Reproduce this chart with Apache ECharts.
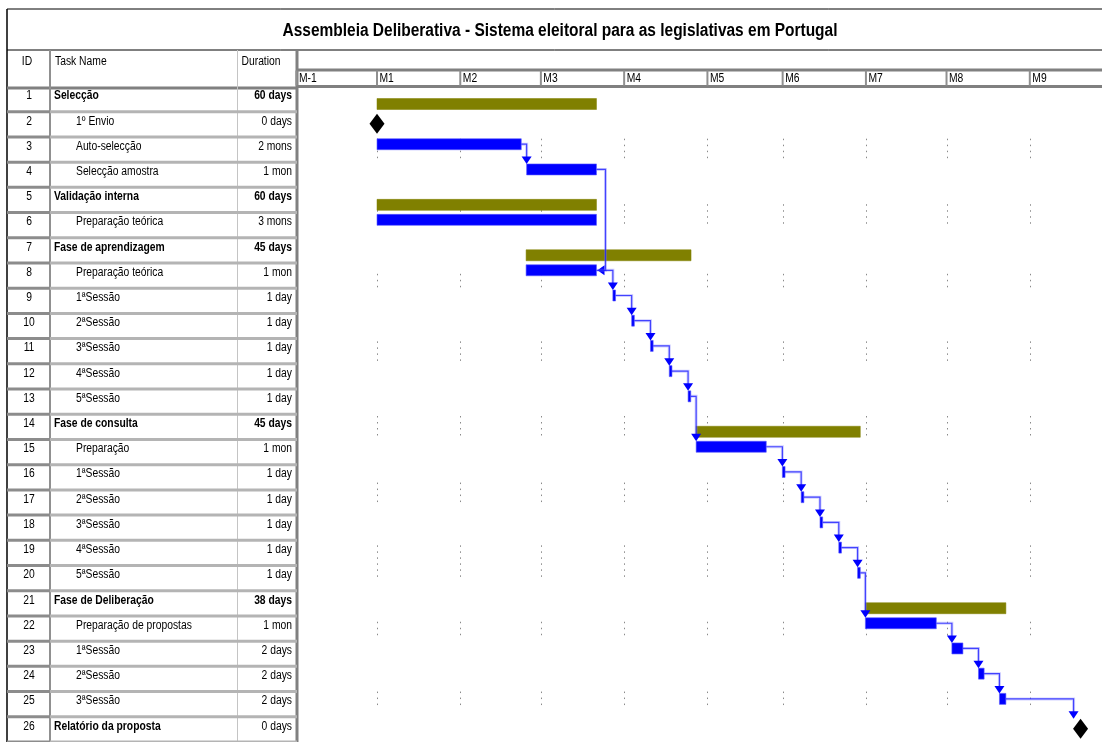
<!DOCTYPE html>
<html>
<head>
<meta charset="utf-8">
<title>Assembleia Deliberativa - Gantt</title>
<script src="https://cdn.jsdelivr.net/npm/echarts@6/dist/echarts.min.js"></script>
<style>
  html, body { margin: 0; padding: 0; background: #ffffff; }
  #chart { width: 1102px; height: 742px; }
</style>
</head>
<body>
<div id="chart"></div>
<script>
// ---- Project data ----------------------------------------------------------
const chartTitle = 'Assembleia Deliberativa - Sistema eleitoral para as legislativas em Portugal';

const taskIds = [1, 2, 3, 4, 5, 6, 7, 8, 9, 10, 11, 12, 13, 14, 15, 16, 17, 18, 19, 20, 21, 22, 23, 24, 25, 26];

const taskNames = [
  'Selecção', '1º Envio', 'Auto-selecção', 'Selecção amostra',
  'Validação interna', 'Preparação teórica',
  'Fase de aprendizagem', 'Preparação teórica', '1ªSessão', '2ªSessão', '3ªSessão', '4ªSessão', '5ªSessão',
  'Fase de consulta', 'Preparação', '1ªSessão', '2ªSessão', '3ªSessão', '4ªSessão', '5ªSessão',
  'Fase de Deliberação', 'Preparação de propostas', '1ªSessão', '2ªSessão', '3ªSessão',
  'Relatório da proposta'
];

const durations = [
  '60 days', '0 days', '2 mons', '1 mon',
  '60 days', '3 mons',
  '45 days', '1 mon', '1 day', '1 day', '1 day', '1 day', '1 day',
  '45 days', '1 mon', '1 day', '1 day', '1 day', '1 day', '1 day',
  '38 days', '1 mon', '2 days', '2 days', '2 days',
  '0 days'
];

// 0 = top-level row, 1 = indented sub-task
const outlineLevels = [0, 1, 1, 1, 0, 1, 0, 1, 1, 1, 1, 1, 1, 0, 1, 1, 1, 1, 1, 1, 0, 1, 1, 1, 1, 0];

// 'S' summary bar, 'T' task bar, 'M' milestone
const taskKinds = ['S', 'M', 'T', 'T', 'S', 'T', 'S', 'T', 'T', 'T', 'T', 'T', 'T',
                   'S', 'T', 'T', 'T', 'T', 'T', 'T', 'S', 'T', 'T', 'T', 'T', 'M'];

// Calendar days counted from the start of month M1
const startDays = [0, 0, 0, 55.7, 0, 0, 55.5, 55.5, 87.8, 94.8, 101.8, 108.8, 115.8,
                   118.8, 118.8, 150.9, 157.9, 164.9, 171.9, 178.9,
                   181.8, 181.8, 214.0, 223.9, 231.7, 261.9];
const finishDays = [81.7, 0, 53.7, 81.7, 81.7, 81.7, 116.9, 81.7, 88.8, 95.8, 102.8, 109.8, 116.8,
                    179.9, 144.9, 151.9, 158.9, 165.9, 172.9, 179.9,
                    234.1, 208.2, 218.1, 226.0, 234.1, 261.9];

// Dependencies: [predecessor id, successor id, type]
const linkFrom = [3, 4, 8, 9, 10, 11, 12, 13, 15, 16, 17, 18, 19, 20, 22, 23, 24, 25];
const linkTo   = [4, 8, 9, 10, 11, 12, 13, 15, 16, 17, 18, 19, 20, 22, 23, 24, 25, 26];
const linkType = ['FS', 'FF', 'FS', 'FS', 'FS', 'FS', 'FS', 'FS', 'FS', 'FS', 'FS', 'FS', 'FS', 'FS', 'FS', 'FS', 'FS', 'FS'];

// Timescale: month labels and the day on which each month begins
const monthLabels = ['M-1', 'M1', 'M2', 'M3', 'M4', 'M5', 'M6', 'M7', 'M8', 'M9'];
const monthStartDays = [-30, 0, 31, 61, 92, 123, 151, 182, 212, 243];

// ---- Layout & style --------------------------------------------------------
const FONT = "'Liberation Sans Narrow', 'Arial Narrow', 'Liberation Sans', Arial, sans-serif";
const TEXT_SCALE_X = 0.86;          // condensed lettering
const CANVAS_W = 1102;
const ROW_TOP = 86.5;
const ROW_H = 25.36;
const DAY0_X = 377;
const PX_PER_DAY = 2.6864;
const TABLE_LEFT = 7;
const TABLE_RIGHT = 297;
const OLIVE = '#808000';
const BLUE = '#0000ff';
const LINK = 'rgba(30,30,255,0.8)';
// row ranges (in row units) where the dotted month gridlines show through
const GRID_DOT_BANDS = [[2.07, 2.9], [4.67, 5.58], [7.43, 8.1], [10.11, 10.98], [13.07, 13.94],
                        [15.71, 16.5], [18.2, 19.46], [21.23, 21.9], [24.0, 24.66]];

const N = taskIds.length;
const gridLeft = DAY0_X + monthStartDays[0] * PX_PER_DAY;
const timescaleEnd = monthStartDays[0] + (CANVAS_W - gridLeft) / PX_PER_DAY;

const chart = echarts.init(document.getElementById('chart'), null, { renderer: 'canvas' });

function txt(x, y, text, opts) {
  return {
    type: 'text', x: x, y: y, scaleX: TEXT_SCALE_X, silent: true,
    style: Object.assign({
      text: text, fill: '#000', fontFamily: FONT, fontSize: 12, fontWeight: 'normal',
      align: 'left', verticalAlign: 'middle'
    }, opts || {})
  };
}

function line(x1, y1, x2, y2, color, width, dash) {
  return {
    type: 'line', silent: true,
    shape: { x1: x1, y1: y1, x2: x2, y2: y2 },
    style: { stroke: color, lineWidth: width, lineDash: dash || null }
  };
}

// Table rows: ID, task name, duration and the row separators
function renderTableRow(params, api) {
  const i = api.value(1);
  const c = api.coord([0, i]);
  const h = api.size([0, 1])[1];
  const top = c[1] - h / 2;
  const ty = top + 9.5;
  const boldName = outlineLevels[i] === 0;
  const boldDur = taskKinds[i] === 'S';
  const xIdCenter = api.coord([22, i])[0];
  const xName = api.coord([47 + outlineLevels[i] * 22, i])[0];
  const xDur = api.coord([285, i])[0];
  const yb = top + h;
  return {
    type: 'group',
    children: [
      line(TABLE_LEFT, yb, 50, yb, '#8c8c8c', 3),
      line(50, yb, TABLE_RIGHT, yb, '#b4b4b4', 3),
      txt(xIdCenter, ty, String(taskIds[i]), { align: 'center' }),
      txt(xName, ty, taskNames[i], { fontWeight: boldName ? 'bold' : 'normal' }),
      txt(xDur, ty, durations[i], { align: 'right', fontWeight: boldDur ? 'bold' : 'normal' })
    ]
  };
}

// Timescale header: month separators and labels above the chart area
function renderMonth(params, api) {
  const d = api.value(0);
  const x = api.coord([d, 0])[0];
  const y0 = params.coordSys.y;
  return {
    type: 'group',
    children: [
      line(x, y0 - 16, x, y0 - 1, '#909090', 2),
      txt(x + 2.5, y0 - 7.5, monthLabels[params.dataIndex], { fontSize: 12 })
    ]
  };
}

// Dotted month gridlines
function renderGridDots(params, api) {
  const d = api.value(0);
  const c = api.coord([d, 0]);
  const h = api.size([0, 1])[1];
  const top0 = c[1] - h / 2;
  const x = Math.round(c[0]) + 0.5;
  return {
    type: 'group',
    children: GRID_DOT_BANDS.map(b => line(x, top0 + b[0] * h, x, top0 + b[1] * h, '#8a8a8a', 1, [1.5, 4.5]))
  };
}

// Bars and milestones
function renderTask(params, api) {
  const i = api.value(2);
  const s = api.coord([api.value(0), i]);
  const e = api.coord([api.value(1), i]);
  const h = api.size([0, 1])[1];
  const top = s[1] - h / 2;
  const kind = taskKinds[i];
  if (kind === 'M') {
    const cy = top + 12;
    return {
      type: 'polygon', silent: true,
      shape: { points: [[s[0], cy - 10], [s[0] + 7.5, cy], [s[0], cy + 10], [s[0] - 7.5, cy]] },
      style: { fill: '#000' }
    };
  }
  const y = kind === 'S' ? top + 12 : top + 1.8;
  return {
    type: 'rect', silent: true,
    shape: { x: s[0], y: y, width: Math.max(e[0] - s[0], 2), height: 11 },
    style: { fill: kind === 'S' ? OLIVE : BLUE, stroke: kind === 'S' ? 'rgba(128,128,0,0.5)' : 'rgba(90,90,255,0.6)', lineWidth: 1 }
  };
}

// Dependency arrows
function renderLink(params, api) {
  const p = api.value(0), q = api.value(1);
  const pEnd = api.coord([finishDays[p], p]);
  const h = api.size([0, 1])[1];
  const pTop = pEnd[1] - h / 2;
  const py = pTop + 7.3;
  const qc = api.coord([startDays[q], q]);
  const qTop = qc[1] - h / 2;
  const children = [];
  const halo = { stroke: 'rgba(120,120,255,0.35)', lineWidth: 3, fill: null };
  if (linkType[params.dataIndex] === 'FF') {
    const qEnd = api.coord([finishDays[q], q])[0];
    const vx = Math.max(pEnd[0], qEnd) + 9;
    const qy = qTop + 7.3;
    const pts = [[pEnd[0], py], [vx, py], [vx, qy], [qEnd + 4, qy]];
    children.push({ type: 'polyline', silent: true, shape: { points: pts }, style: halo });
    children.push({ type: 'polyline', silent: true, shape: { points: pts },
      style: { stroke: LINK, lineWidth: 1.2, fill: null } });
    children.push({
      type: 'polygon', silent: true,
      shape: { points: [[qEnd + 1, qy], [qEnd + 8, qy - 5], [qEnd + 8, qy + 5]] },
      style: { fill: BLUE }
    });
  } else {
    let vx = qc[0];
    let tipY = qTop + 1.8;
    if (taskKinds[q] === 'M') { vx = qc[0] - 7; tipY = qTop + 2; }
    const pts = [[pEnd[0], py], [vx, py], [vx, tipY - 4]];
    children.push({ type: 'polyline', silent: true, shape: { points: pts }, style: halo });
    children.push({ type: 'polyline', silent: true, shape: { points: pts },
      style: { stroke: LINK, lineWidth: 1.2, fill: null } });
    children.push({
      type: 'polygon', silent: true,
      shape: { points: [[vx - 5, tipY - 7.5], [vx + 5, tipY - 7.5], [vx, tipY]] },
      style: { fill: BLUE }
    });
  }
  return { type: 'group', children: children };
}

const option = {
  animation: false,
  backgroundColor: '#ffffff',
  grid: [
    { left: TABLE_LEFT, top: ROW_TOP, width: TABLE_RIGHT - TABLE_LEFT, height: ROW_H * N },
    { left: gridLeft, top: ROW_TOP, width: CANVAS_W - gridLeft, height: ROW_H * N }
  ],
  xAxis: [
    { gridIndex: 0, type: 'value', min: 0, max: TABLE_RIGHT - TABLE_LEFT, show: false },
    { gridIndex: 1, type: 'value', min: monthStartDays[0], max: timescaleEnd, show: false }
  ],
  yAxis: [
    { gridIndex: 0, type: 'category', data: taskIds, inverse: true, show: false },
    { gridIndex: 1, type: 'category', data: taskIds, inverse: true, show: false }
  ],
  graphic: [
    // outer frame and title band
    line(TABLE_LEFT, 9, CANVAS_W, 9, '#000', 1),
    line(TABLE_LEFT, 9, TABLE_LEFT, 742, '#000', 1.5),
    line(TABLE_LEFT, 50, CANVAS_W, 50, '#000', 1),
    txt(560, 31, chartTitle, { align: 'center', fontSize: 18, fontWeight: 'bold' }),
    // column header
    line(TABLE_LEFT, 88, TABLE_RIGHT, 88, '#808080', 3),
    line(TABLE_RIGHT, 70, CANVAS_W, 70, '#808080', 3),
    line(TABLE_RIGHT, 86.5, CANVAS_W, 86.5, '#808080', 3),
    line(50, 50, 50, 742, '#909090', 2),
    line(237.5, 50, 237.5, 742, '#c4c4c4', 1),
    line(TABLE_RIGHT, 50, TABLE_RIGHT, 742, '#808080', 3),
    txt(27, 62, 'ID', { align: 'center' }),
    txt(55, 62, 'Task Name'),
    txt(261, 62, 'Duration', { align: 'center' })
  ],
  series: [
    {
      type: 'custom', name: 'table', xAxisIndex: 0, yAxisIndex: 0, clip: false, z: 2,
      encode: { x: 0, y: 1 },
      data: taskIds.map((id, i) => [0, i]),
      renderItem: renderTableRow
    },
    {
      type: 'custom', name: 'months', xAxisIndex: 1, yAxisIndex: 1, clip: false, z: 2,
      encode: { x: 0 },
      data: monthStartDays.map(d => [d]),
      renderItem: renderMonth
    },
    {
      type: 'custom', name: 'gridlines', xAxisIndex: 1, yAxisIndex: 1, clip: false, z: 1,
      encode: { x: 0 },
      data: monthStartDays.slice(1).map(d => [d]),
      renderItem: renderGridDots
    },
    {
      type: 'custom', name: 'tasks', xAxisIndex: 1, yAxisIndex: 1, clip: false, z: 3,
      encode: { x: [0, 1], y: 2 },
      data: taskIds.map((id, i) => [startDays[i], finishDays[i], i]),
      renderItem: renderTask
    },
    {
      type: 'custom', name: 'links', xAxisIndex: 1, yAxisIndex: 1, clip: false, z: 4,
      encode: { x: [2, 3] },
      data: linkFrom.map((f, k) => [f - 1, linkTo[k] - 1, finishDays[f - 1], startDays[linkTo[k] - 1]]),
      renderItem: renderLink
    }
  ]
};

chart.setOption(option);
</script>
</body>
</html>
